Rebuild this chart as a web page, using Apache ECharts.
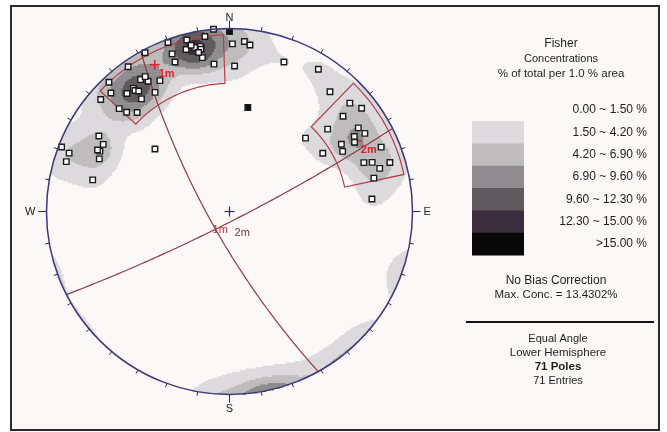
<!DOCTYPE html>
<html>
<head>
<meta charset="utf-8">
<script src="https://cdn.jsdelivr.net/npm/echarts@6/dist/echarts.min.js"></script>
<style>
html,body{margin:0;padding:0;background:#ffffff}
#chart{width:667px;height:432px}
</style>
</head>
<body>
<div id="chart"></div>
<script>
// Poles to joints: trend / plunge in degrees (lower hemisphere)
const poleTrend = [0,1,355,352,346,347,350,350,354,2, 340,340,340,332,325,317,326,328,328,332,
  328,322,319,322,315,311,313,314,317,300, 5,7,20,32,40,10,48,52,50,50,
  46,57,60,59,58,62,67,70,71,73, 74,77,85,291,290,287,298,295,292,283,
  310,348,350,345,349,347,322,323,59,61, 295];
const polePlunge = [1,5,0,2,2,4,5,9,12,13, 1,5,8,1,2,2,8,10,8,12,
  15,9,9,14,5,4,11,14,17,11, 4,5,8,5,9,30,7,5,12,20,
  30,10,9,19,28,20,6,14,11,5, 9,12,14,1,4,4,14,14,15,15,
  34,5,6,5,7,4,10,11,13,14, 13];
const solidPoles = [0, 35];

// Joint sets: mean pole and selection window (trend range, plunge range)
const setNames = ['1m', '2m'];
const setMeanTrend = [333, 61];
const setMeanPlunge = [6, 13];
const windowTrend = [[313, 358], [44, 78]];
const windowPlunge = [[2, 20], [1.5, 24.5]];

// Contour intervals (% of total per 1 % area)
const bandBounds = [0, 1.5, 4.2, 6.9, 9.6, 12.3, 15];
const maxConc = 13.4302;
const fisherK = 100;

const bandColors = ['#ffffff', '#dcdadc', '#bebcbc', '#8e8c8e', '#5e5a5e', '#3c2f3d', '#080808'];
const FONT = "'Liberation Sans', Arial, sans-serif";
const RAD = Math.PI / 180;

// Equal-angle (stereographic) projection, lower hemisphere, unit primitive
function project(trend, plunge) {
  const r = Math.tan((90 - plunge) / 2 * RAD);
  return [r * Math.sin(trend * RAD), r * Math.cos(trend * RAD)];
}
function toVec(trend, plunge) {
  const t = trend * RAD, p = plunge * RAD;
  return [Math.cos(p) * Math.cos(t), Math.cos(p) * Math.sin(t), Math.sin(p)];
}
function vecToXY(v) {
  let [n, e, d] = v;
  if (d < 0) { n = -n; e = -e; d = -d; }
  return [e / (1 + d), n / (1 + d)];
}

// Fisher density on a grid over the net, banded and run-length encoded by row
const poleVecs = poleTrend.map((t, i) => toVec(t, polePlunge[i]));
const N = poleVecs.length;
const step = 1 / 120;
const half = step / 2;
const rows = [];
let gridMax = 0;
for (let y = -1 + half; y < 1; y += step) {
  const row = [];
  for (let x = -1 + half; x < 1; x += step) {
    const r2 = x * x + y * y;
    if (r2 > 1) { row.push(-1); continue; }
    const k = 1 + r2;
    const n = 2 * y / k, e = 2 * x / k, d = (1 - r2) / k;
    let s = 0;
    for (const p of poleVecs) {
      const c = n * p[0] + e * p[1] + d * p[2];
      s += Math.exp(fisherK * (c - 1)) + Math.exp(fisherK * (-c - 1));
    }
    const conc = fisherK * s / N;
    if (conc > gridMax) gridMax = conc;
    row.push(conc);
  }
  rows.push({y, row});
}
const scale = maxConc / gridMax;
const runs = [];
rows.forEach(({y, row}) => {
  let cur = 0, start = 0;
  const flush = (endIdx) => {
    if (cur > 0) runs.push([-1 + start * step, -1 + endIdx * step, y, cur]);
  };
  row.forEach((c, i) => {
    let b = 0;
    if (c >= 0) {
      const v = c * scale;
      for (let j = 1; j < bandBounds.length; j++) if (v >= bandBounds[j]) b = j;
    }
    if (b !== cur) { flush(i); cur = b; start = i; }
  });
  flush(row.length);
});

const poleData = poleTrend.map((t, i) => {
  const xy = project(t, polePlunge[i]);
  const solid = solidPoles.indexOf(i) >= 0;
  return {value: xy, itemStyle: {color: solid ? '#111' : '#ffffff'}};
});

const setData = setNames.map((nm, i) => {
  const xy = project(setMeanTrend[i], setMeanPlunge[i]);
  return [xy[0], xy[1], setMeanTrend[i], setMeanPlunge[i], i];
});

// Great circle of the plane whose pole is given
function greatCircle(trend, plunge) {
  const s = [Math.cos((trend + 90) * RAD), Math.sin((trend + 90) * RAD), 0];
  const dd = (trend + 180) * RAD, dip = (90 - plunge) * RAD;
  const u = [Math.cos(dip) * Math.cos(dd), Math.cos(dip) * Math.sin(dd), Math.sin(dip)];
  const pts = [];
  for (let a = 0; a <= 180; a += 2) {
    const ca = Math.cos(a * RAD), sa = Math.sin(a * RAD);
    pts.push(vecToXY([ca * s[0] + sa * u[0], ca * s[1] + sa * u[1], ca * s[2] + sa * u[2]]));
  }
  return pts;
}

// Intersection of the two mean planes
const p1 = toVec(setMeanTrend[0], setMeanPlunge[0]);
const p2 = toVec(setMeanTrend[1], setMeanPlunge[1]);
const cross = [p1[1]*p2[2]-p1[2]*p2[1], p1[2]*p2[0]-p1[0]*p2[2], p1[0]*p2[1]-p1[1]*p2[0]];
const cl = Math.hypot(cross[0], cross[1], cross[2]);
const interXY = vecToXY(cross.map(v => v / cl));

const chart = echarts.init(document.getElementById('chart'), null, {renderer: 'canvas'});

const graphic = [];
graphic.push({type: 'rect', z: -100, shape: {x: 11, y: 6, width: 648, height: 424},
  style: {fill: '#fdf8f8', stroke: '#2a2a2a', lineWidth: 2}});
const txt = (text, x, y, opts = {}) => ({type: 'text', z: 10, x, y, style: Object.assign({
  text, fill: '#1e1e1e', font: `11px ${FONT}`, textAlign: 'center', textVerticalAlign: 'middle'}, opts)});
graphic.push(txt('Fisher', 561, 44, {font: `12px ${FONT}`}));
graphic.push(txt('Concentrations', 561, 59));
graphic.push(txt('% of total per 1.0 % area', 561, 74, {font: `11.5px ${FONT}`}));
const rowH = 22.3, row0 = 110;
for (let i = 0; i < bandBounds.length; i++) {
  const cy = row0 + rowH * i;
  const label = i < bandBounds.length - 1
    ? `${bandBounds[i].toFixed(2)} ~ ${bandBounds[i + 1].toFixed(2)} %`
    : `>${bandBounds[i].toFixed(2)} %`;
  if (i >= 1) {
    graphic.push({type: 'rect', z: 5, shape: {x: 472, y: cy - rowH / 2, width: 52, height: rowH + 0.5},
      style: {fill: bandColors[i]}});
  }
  graphic.push(txt(label, 647, cy, {textAlign: 'right', font: `12px ${FONT}`}));
}
graphic.push(txt('No Bias Correction', 556, 281, {font: `12px ${FONT}`}));
graphic.push(txt(`Max. Conc. = ${maxConc.toFixed(4)}%`, 556, 295, {font: `11.5px ${FONT}`}));
graphic.push({type: 'line', z: 5, shape: {x1: 466, y1: 322, x2: 654, y2: 322}, style: {stroke: '#111', lineWidth: 2}});
graphic.push(txt('Equal Angle', 558, 339));
graphic.push(txt('Lower Hemisphere', 558, 353, {font: `11.5px ${FONT}`}));
graphic.push(txt(`${N} Poles`, 558, 367, {font: `bold 11.5px ${FONT}`}));
graphic.push(txt(`${N} Entries`, 558, 381));

const netCenter = [229.5, 211.5], netR = 183;
const cardinalLabel = {0: '{n|N}', 90: '{e|E}', 180: '{s|S}', 270: '{w|W}'};

chart.setOption({
  animation: false,
  backgroundColor: '#ffffff',
  graphic,
  grid: {left: netCenter[0] - netR, top: netCenter[1] - netR, width: 2 * netR, height: 2 * netR},
  xAxis: {type: 'value', min: -1, max: 1, show: false},
  yAxis: {type: 'value', min: -1, max: 1, show: false},
  polar: [
    {center: netCenter, radius: netR},
    {center: netCenter, radius: netR}
  ],
  radiusAxis: [
    {polarIndex: 0, show: false, min: 0, max: 1},
    {polarIndex: 1, show: false, min: 0, max: 1}
  ],
  angleAxis: [
    {polarIndex: 0, type: 'value', min: 0, max: 360, interval: 10, startAngle: 90, clockwise: true, z: 6,
      axisLine: {lineStyle: {color: '#3d3a7a', width: 1.5}},
      axisTick: {length: 4, lineStyle: {color: '#2a2a4a', width: 1}},
      axisLabel: {show: false}, splitLine: {show: false}},
    {polarIndex: 1, type: 'value', min: 0, max: 360, interval: 90, startAngle: 90, clockwise: true, z: 6,
      axisLine: {show: false},
      axisTick: {length: 8, lineStyle: {color: '#2a2a4a', width: 1}},
      axisLabel: {margin: 4, color: '#222', fontFamily: FONT, fontSize: 11,
        formatter: v => (v < 360 ? (cardinalLabel[v] || '') : ''),
        rich: {
          n: {fontSize: 11, color: '#222', padding: [0, 0, 1, 0]},
          e: {fontSize: 11, color: '#222', padding: [0, 0, 0, 7]},
          s: {fontSize: 11, color: '#222', padding: [5, 0, 0, 0]},
          w: {fontSize: 11, color: '#222', padding: [0, 7, 0, 0]}
        }},
      splitLine: {show: false}}
  ],
  series: [
    {
      type: 'custom', name: 'contours', coordinateSystem: 'cartesian2d', silent: true, z: 1,
      data: runs, encode: {x: [0, 1], y: 2},
      renderItem(params, api) {
        const a = api.coord([api.value(0), api.value(2) + half]);
        const b = api.coord([api.value(1), api.value(2) - half]);
        return {type: 'rect', shape: {x: a[0], y: a[1], width: b[0] - a[0], height: b[1] - a[1] + 0.6},
          style: {fill: bandColors[api.value(3)]}};
      }
    },
    {
      type: 'custom', name: 'windows', coordinateSystem: 'cartesian2d', silent: true, z: 3,
      data: setNames.map((nm, i) => [...project((windowTrend[i][0] + windowTrend[i][1]) / 2, windowPlunge[i][0]), i]),
      renderItem(params, api) {
        const i = api.value(2);
        const [t0, t1] = windowTrend[i], [q0, q1] = windowPlunge[i];
        const pts = [];
        for (let t = t0; t <= t1 + 1e-6; t += 1) pts.push(project(t, q0));
        for (let t = t1; t >= t0 - 1e-6; t -= 1) pts.push(project(t, q1));
        return {type: 'polygon', shape: {points: pts.map(p => api.coord(p))},
          style: {fill: 'none', stroke: '#b0404e', lineWidth: 1.2}};
      }
    },
    {
      type: 'custom', name: 'mean planes', coordinateSystem: 'cartesian2d', silent: true, z: 3,
      data: setData,
      renderItem(params, api) {
        const t = api.value(2), p = api.value(3), i = api.value(4);
        const gc = greatCircle(t, p).map(q => api.coord(q));
        const c = api.coord([api.value(0), api.value(1)]);
        return {type: 'group', children: [
          {type: 'polyline', shape: {points: gc}, style: {stroke: '#8e3a4a', lineWidth: 1.2, fill: 'none'}},
          {type: 'line', shape: {x1: c[0] - 5, y1: c[1], x2: c[0] + 5, y2: c[1]}, style: {stroke: '#e0202c', lineWidth: 1.5}},
          {type: 'line', shape: {x1: c[0], y1: c[1] - 5, x2: c[0], y2: c[1] + 5}, style: {stroke: '#e0202c', lineWidth: 1.5}},
          {type: 'text', x: c[0] + 4, y: c[1] + 9, style: {text: setNames[i], fill: '#e0202c',
            font: `bold 11px ${FONT}`, textVerticalAlign: 'middle'}}
        ]};
      }
    },
    {
      type: 'custom', name: 'intersection', coordinateSystem: 'cartesian2d', silent: true, z: 3,
      data: [interXY],
      renderItem(params, api) {
        const c = api.coord([api.value(0), api.value(1)]);
        return {type: 'group', children: [
          {type: 'text', x: c[0] - 3, y: c[1] + 1, style: {text: setNames[0], fill: '#c0303a', font: `11px ${FONT}`, textVerticalAlign: 'middle'}},
          {type: 'text', x: c[0] + 19, y: c[1] + 4, style: {text: setNames[1], fill: '#6a3a3a', font: `11px ${FONT}`, textVerticalAlign: 'middle'}}
        ]};
      }
    },
    {
      type: 'scatter', name: 'poles', symbol: 'rect', symbolSize: 5.5, z: 4, silent: true,
      data: poleData,
      itemStyle: {borderColor: '#1a1a1a', borderWidth: 1.4, opacity: 1}
    },
    {
      type: 'custom', name: 'centre', coordinateSystem: 'cartesian2d', silent: true, z: 4,
      data: [[0, 0]],
      renderItem(params, api) {
        const c = api.coord([api.value(0), api.value(1)]);
        return {type: 'group', children: [
          {type: 'line', shape: {x1: c[0] - 5, y1: c[1], x2: c[0] + 5, y2: c[1]}, style: {stroke: '#2b2b6a', lineWidth: 1.2}},
          {type: 'line', shape: {x1: c[0], y1: c[1] - 5, x2: c[0], y2: c[1] + 5}, style: {stroke: '#2b2b6a', lineWidth: 1.2}}
        ]};
      }
    }
  ]
});
</script>
</body>
</html>
